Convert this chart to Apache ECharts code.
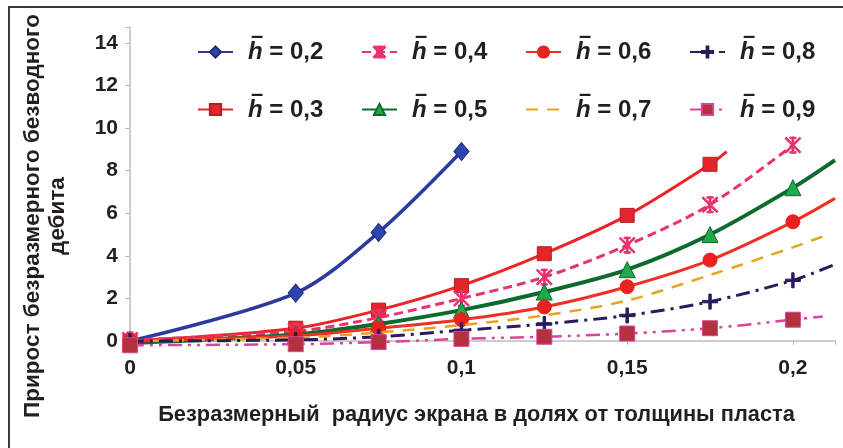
<!DOCTYPE html>
<html>
<head>
<meta charset="utf-8">
<script src="https://cdn.jsdelivr.net/npm/echarts@6/dist/echarts.min.js"></script>
<style>
html,body{margin:0;padding:0;background:#fff;}
#chart{width:843px;height:448px;}
</style>
</head>
<body>
<div id="chart"></div>
<script>
// Data
const radius = [0, 0.05, 0.075, 0.1, 0.125, 0.15, 0.175, 0.2];
const h02 = [0, 2.25, 5.1, 8.9, null, null, null, null];
const h03 = [0, 0.6, 1.45, 2.6, 4.1, 5.9, 8.3, null];
const h04 = [0.05, 0.45, 1.1, 2.0, 3.0, 4.5, 6.4, 9.2];
const h05 = [-0.1, 0.3, 0.8, 1.45, 2.3, 3.35, 5.0, 7.2];
const h06 = [0, 0.25, 0.6, 1.0, 1.6, 2.55, 3.8, 5.6];
const h07 = [0, 0.15, 0.4, 0.75, 1.2, 1.9, 3.1, 4.4];
const h08 = [0, 0.05, 0.2, 0.5, 0.8, 1.2, 1.85, 2.85];
const h09 = [-0.2, -0.15, -0.05, 0.1, 0.2, 0.35, 0.6, 1.0];
// visible line ends without a marker [x, y]
const tail03 = [0.18, 8.9];
const tail05 = [0.2127, 8.5];
const tail06 = [0.2127, 6.7];
const tail07 = [0.2105, 5.0];
const tail08 = [0.2127, 3.6];
const tail09 = [0.209, 1.15];
const seriesNames = ['0,2', '0,3', '0,4', '0,5', '0,6', '0,7', '0,8', '0,9'];
const legendOrder = ['0,2', '0,4', '0,6', '0,8', '0,3', '0,5', '0,7', '0,9'];
const yTicks = [0, 2, 4, 6, 8, 10, 12, 14];

const asterisk = 'path://M44,0L56,0L56,100L44,100Z M0,8L8,0L100,92L92,100Z M92,0L100,8L8,100L0,92Z M30,0L70,0L70,9L30,9Z M30,91L70,91L70,100L30,100Z';
const plus = 'path://M42,0L58,0L58,42L100,42L100,58L58,58L58,100L42,100L42,58L0,58L0,42L42,42Z';

function build(vals, tail) {
  const d = [];
  radius.forEach((x, i) => { if (vals[i] !== null) d.push([x, vals[i]]); });
  if (tail) d.push({ value: tail, symbol: 'none' });
  return d;
}

const styles = [
  { vals: h02, tail: null, color: '#2b3a9c', width: 3.5, type: 'solid', symbol: 'diamond', size: [15, 18], fill: '#2e44b0', border: '#1f2a7a', op: 1 },
  { vals: h03, tail: tail03, color: '#ec2327', width: 3, type: 'solid', symbol: 'rect', size: 14, fill: '#e3262b', border: '#b51d22', op: 1 },
  { vals: h04, tail: null, color: '#e6336e', width: 3, type: [9, 5], symbol: asterisk, size: 16, fill: '#e8336e', border: '#e8336e', op: 1 },
  { vals: h05, tail: tail05, color: '#0b6a2c', width: 4, type: 'solid', symbol: 'triangle', size: 16, fill: '#21a84a', border: '#0b6a2c', op: 1 },
  { vals: h06, tail: tail06, color: '#ee3124', width: 3, type: 'solid', symbol: 'circle', size: 14, fill: '#e8231f', border: '#e8231f', op: 1 },
  { vals: h07, tail: tail07, color: '#e6a322', width: 2.5, type: [12, 9], symbol: 'circle', size: 1, fill: '#e6a322', border: '#e6a322', op: 0 },
  { vals: h08, tail: tail08, color: '#2a1b5e', width: 3, type: [14, 6, 3, 6], symbol: plus, size: 15, fill: '#2a1b5e', border: '#2a1b5e', op: 1 },
  { vals: h09, tail: tail09, color: '#d9449a', width: 2.5, type: [14, 6, 3, 6, 3, 6], symbol: 'rect', size: 15, fill: '#b3303f', border: '#d9449a', op: 1 }
];

const series = styles.map((s, i) => ({
  name: seriesNames[i],
  type: 'line',
  data: build(s.vals, s.tail),
  smooth: 0.3,
  clip: false,
  symbol: s.symbol,
  symbolSize: s.size,
  showSymbol: s.op > 0,
  lineStyle: { color: s.color, width: s.width, type: s.type },
  itemStyle: { color: s.fill, borderColor: s.border, borderWidth: 1, opacity: s.op },
  emphasis: { disabled: true },
  z: 2 + i
}));

const chart = echarts.init(document.getElementById('chart'), null, { renderer: 'canvas' });
const font = 'Liberation Sans, Arial, sans-serif';
chart.setOption({
  animation: false,
  backgroundColor: '#ffffff',
  grid: { left: 130, right: 8, top: 27, bottom: 107, outerBoundsMode: 'none', containLabel: false },
  legend: {
    data: legendOrder,
    left: 197,
    top: 26,
    width: 640,
    padding: 0,
    orient: 'horizontal',
    itemWidth: 35,
    itemHeight: 14,
    itemGap: 16,
    selectedMode: false,
    formatter: name => '{o|\u2013}\n{h|h} = ' + name,
    textStyle: {
      fontFamily: font, fontSize: 24, fontWeight: 'bold', color: '#231f20',
      width: 107, lineHeight: 30,
      rich: {
        o: { fontFamily: font, fontSize: 22, fontWeight: 'bold', color: '#231f20', lineHeight: 1, padding: [0, 0, 0, 13] },
        h: { fontFamily: font, fontSize: 24, fontWeight: 'bold', fontStyle: 'italic', color: '#231f20', lineHeight: 30, padding: [0, 0, 0, 10] }
      }
    }
  },
  xAxis: {
    type: 'value',
    min: 0, max: 0.2127, interval: 0.05,
    name: 'Безразмерный  радиус экрана в долях от толщины пласта',
    nameLocation: 'middle',
    nameGap: 63,
    nameTextStyle: { fontFamily: font, fontSize: 21.8, fontWeight: 'bold', color: '#231f20', padding: [0, 12, 0, 0] },
    axisLine: { show: true, lineStyle: { color: '#bcbcbc', width: 1.5 } },
    axisTick: { show: true, length: 4, lineStyle: { color: '#bcbcbc' } },
    splitLine: { show: false },
    axisLabel: {
      margin: 17, fontFamily: font, fontSize: 21, fontWeight: 'bold', color: '#231f20',
      formatter: v => (Math.abs(v / 0.05 - Math.round(v / 0.05)) < 1e-6 ? String(+v.toFixed(2)).replace('.', ',') : '')
    }
  },
  yAxis: {
    type: 'value',
    min: 0, max: 14.75, interval: 2,
    axisLine: { show: true, lineStyle: { color: '#bcbcbc', width: 1.5 } },
    axisTick: { show: true, length: 5, lineStyle: { color: '#bcbcbc' } },
    splitLine: { show: false },
    axisLabel: {
      margin: 12, fontFamily: font, fontSize: 21, fontWeight: 'bold', color: '#231f20',
      formatter: v => (yTicks.indexOf(Math.round(v * 1000) / 1000) >= 0 ? String(v) : '')
    }
  },
  graphic: [
    {
      type: 'rect', silent: true, z: 100,
      shape: { x: 9, y: 7, width: 900, height: 600 },
      style: { fill: 'none', stroke: '#3a3a3a', lineWidth: 2 }
    },
    {
      type: 'text', silent: true, z: 100,
      x: 45, y: 216, rotation: Math.PI / 2,
      style: {
        text: 'Прирост безразмерного безводного\nдебита',
        fontFamily: font, fontSize: 22.5, fontWeight: 'bold', fill: '#231f20',
        lineHeight: 25, align: 'center', verticalAlign: 'middle'
      }
    }
  ],
  series: series
});
</script>
</body>
</html>
